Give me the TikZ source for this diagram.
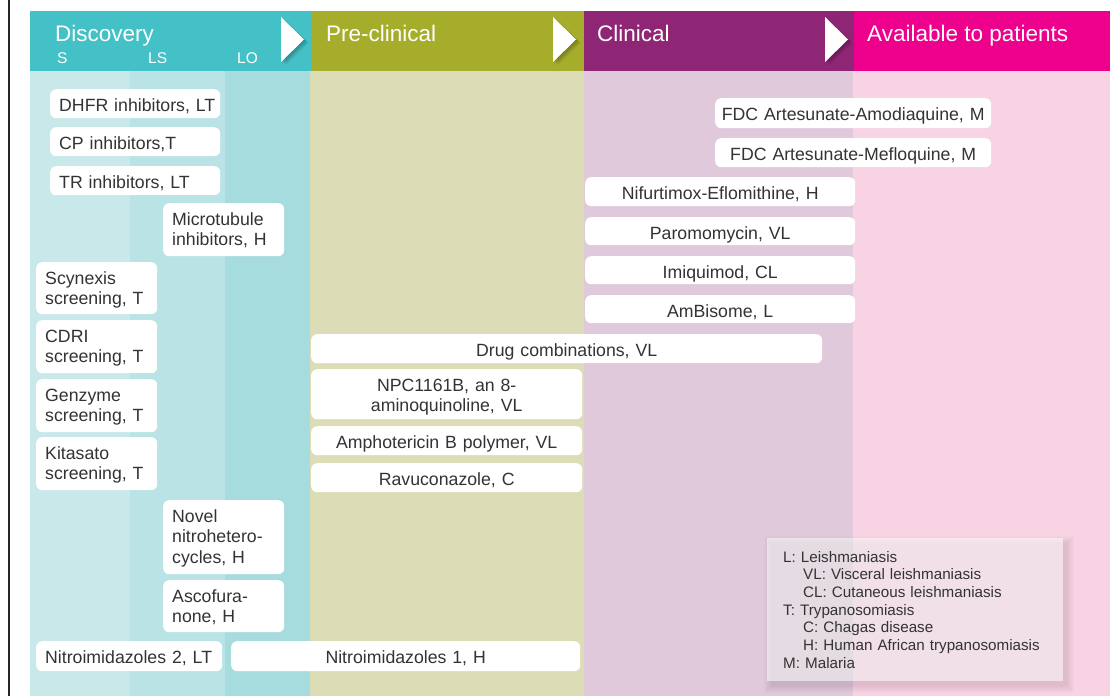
\documentclass[tikz,border=0pt]{standalone}
\usepackage{fontspec}
\setmainfont{Liberation Sans}
\definecolor{discHead}{HTML}{43C1C7}
\definecolor{preHead}{HTML}{A5AD2A}
\definecolor{clinHead}{HTML}{8F2575}
\definecolor{availHead}{HTML}{EC008C}
\definecolor{sCol}{HTML}{C8E8EA}
\definecolor{lsCol}{HTML}{B9E3E5}
\definecolor{loCol}{HTML}{A7DCDF}
\definecolor{preCol}{HTML}{DCDDB6}
\definecolor{clinCol}{HTML}{DFC9DB}
\definecolor{availCol}{HTML}{F8D3E3}
\definecolor{ink}{HTML}{333333}
\begin{document}
\begin{tikzpicture}[x=1pt,y=-1pt,
  hdr/.style={text=white, inner sep=0pt, anchor=base west, font=\fontsize{22.5}{26}\selectfont},
  sub/.style={text=white, inner sep=0pt, anchor=base west, font=\fontsize{15.5}{18}\selectfont},
  card/.style={fill=white, rounded corners=6pt, text=ink, anchor=north west,
    inner xsep=9pt, inner ysep=0pt, text height=22pt,
    font=\fontsize{17.7}{20.5}\selectfont},
  lcard/.style={card, align=left},
  ccard/.style={card, align=center, inner xsep=4pt},
  legend/.style={fill=white, fill opacity=0.55, text opacity=1, text=ink, anchor=north west,
    align=left, inner xsep=16pt, inner ysep=0pt, font=\fontsize{15.2}{17.7}\selectfont},
  tipshade/.style={fill=black, opacity=0.06},
  tip/.style={fill=white}
]
\useasboundingbox (0,0) rectangle (1110,696);
\fill[white] (0,0) rectangle (1110,696);

% stage columns
\fill[sCol] (30,71) rectangle (130,696);
\fill[lsCol] (130,71) rectangle (225,696);
\fill[loCol] (225,71) rectangle (310,696);
\fill[preCol] (310,71) rectangle (584,696);
\fill[clinCol] (584,71) rectangle (853,696);
\fill[availCol] (853,71) rectangle (1110,696);

% stage headers
\fill[discHead] (30,11) rectangle (311,71);
\fill[preHead] (311,11) rectangle (584,71);
\fill[clinHead] (584,11) rectangle (854,71);
\fill[availHead] (854,11) rectangle (1110,71);

% arrow tips between stages, with a soft shadow
\foreach \x in {281,553,825}{
  \foreach \s in {1,...,5}
    \fill[tipshade, shift={(\s*0.9,\s*0.7)}] (\x,17) -- (\x,62) -- (\x+23,39.5) -- cycle;
  \fill[tip] (\x,17) -- (\x,62) -- (\x+23,39.5) -- cycle;
}

% margin rule
\draw[line width=1.3pt, black!85] (9,0) -- (9,696);

% header labels
\node[hdr] (hdisc) at (55,41.7) {Discovery};
\node[hdr] (hpre) at (326,41.7) {Pre-clinical};
\node[hdr] (hclin) at (597,41.7) {Clinical};
\node[hdr] (havail) at (867,41.7) {Available to patients};
\node[sub] (hs) at (57,63) {S};
\node[sub] (hls) at (148,63) {LS};
\node[sub] (hlo) at (237,63) {LO};

% discovery projects
\node[lcard, text width=152pt, text depth=7pt] (dhfr) at (50,89) {\mbox{DHFR inhibitors, LT}};
\node[lcard, text width=152pt, text depth=7pt] (cp) at (50,127) {\mbox{CP inhibitors,T}};
\node[lcard, text width=152pt, text depth=7pt] (tr) at (50,166) {\mbox{TR inhibitors, LT}};
\node[lcard, text width=103pt, text depth=31pt] (micro) at (163,203) {Microtubule\\inhibitors, H};
\node[lcard, text width=103pt, text depth=30pt] (scyn) at (36,262) {Scynexis\\screening, T};
\node[lcard, text width=103pt, text depth=31pt] (cdri) at (36,320) {CDRI\\screening, T};
\node[lcard, text width=103pt, text depth=31pt] (genz) at (36,379) {Genzyme\\screening, T};
\node[lcard, text width=103pt, text depth=31pt] (kita) at (36,437) {Kitasato\\screening, T};
\node[lcard, text width=103pt, text depth=52pt] (novel) at (163,500) {Novel\\nitrohetero-\\cycles, H};
\node[lcard, text width=103pt, text depth=30pt] (asco) at (163,580) {Ascofura-\\none, H};
\node[lcard, text width=168pt, text depth=8pt] (nitro2) at (36,641) {\mbox{Nitroimidazoles 2, LT}};
\node[ccard, text width=341pt, text depth=8pt] (nitro1) at (231,641) {Nitroimidazoles 1, H};

% pre-clinical projects
\node[ccard, text width=503pt, text depth=7pt] (combo) at (311,334) {Drug combinations, VL};
\node[ccard, text width=263pt, text depth=28pt] (npc) at (311,369) {NPC1161B, an 8-\\aminoquinoline, VL};
\node[ccard, text width=263pt, text depth=7pt] (ampho) at (311,426) {Amphotericin B polymer, VL};
\node[ccard, text width=263pt, text depth=7pt] (ravu) at (311,463) {Ravuconazole, C};

% clinical projects
\node[ccard, text width=268pt, text depth=8pt] (asaq) at (715,98) {\mbox{FDC Artesunate-Amodiaquine, M}};
\node[ccard, text width=268pt, text depth=7pt] (asmq) at (715,138) {\mbox{FDC Artesunate-Mefloquine, M}};
\node[ccard, text width=262pt, text depth=7pt] (nifur) at (585,177) {Nifurtimox-Eflomithine, H};
\node[ccard, text width=262pt, text depth=6pt] (paro) at (585,217) {Paromomycin, VL};
\node[ccard, text width=262pt, text depth=6pt] (imiq) at (585,256) {Imiquimod, CL};
\node[ccard, text width=262pt, text depth=6pt] (ambi) at (585,295) {AmBisome, L};

% key to abbreviations
\foreach \k in {0,...,7}
  \fill[black, opacity=0.012] (771-\k,543-\k) rectangle (1067+\k,686+\k);
\node[legend, minimum width=296pt, minimum height=143pt, text width=264pt] (key) at (767,538)
  {L: Leishmaniasis\\
   \hspace*{20pt}VL: Visceral leishmaniasis\\
   \hspace*{20pt}CL: Cutaneous leishmaniasis\\
   T: Trypanosomiasis\\
   \hspace*{20pt}C: Chagas disease\\
   \hspace*{20pt}H: Human African trypanosomiasis\\
   M: Malaria};
\end{tikzpicture}
\end{document}
